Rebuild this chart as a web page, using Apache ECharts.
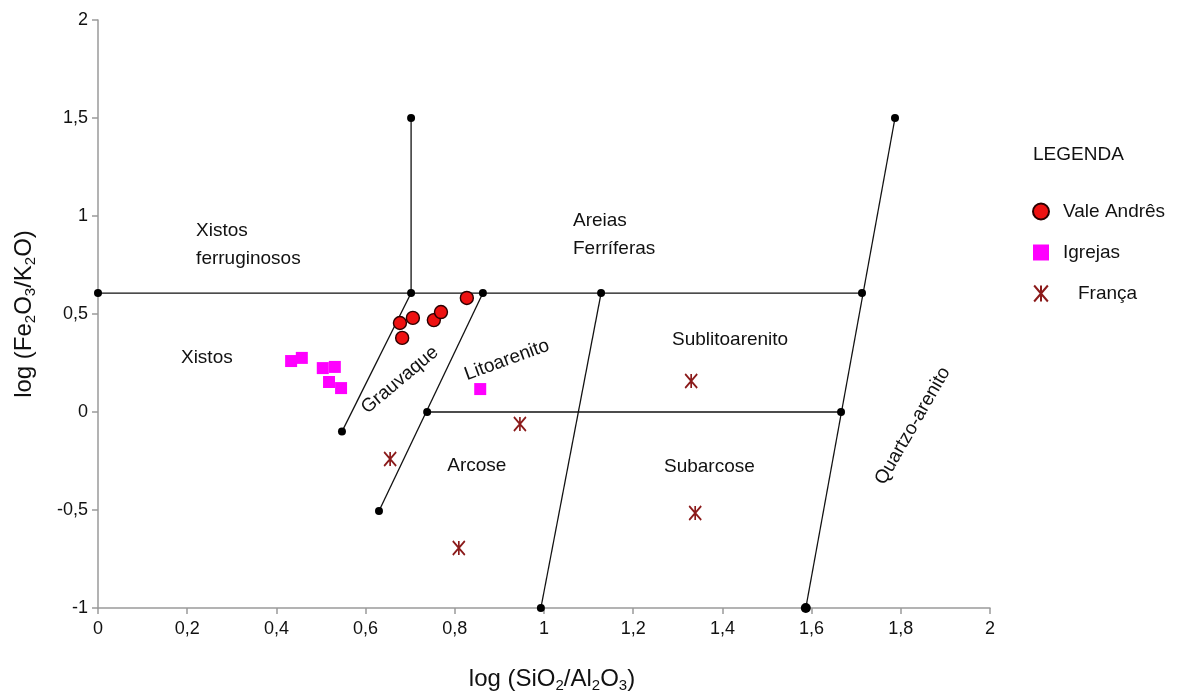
<!DOCTYPE html>
<html>
<head>
<meta charset="utf-8">
<script src="https://cdn.jsdelivr.net/npm/echarts@6/dist/echarts.min.js"></script>
<style>
  html, body { margin: 0; padding: 0; background: #fff; }
  #chart { width: 1200px; height: 695px; }
</style>
</head>
<body>
<div id="chart"></div>
<script>
// Herron (1988) classification: log(SiO2/Al2O3) vs log(Fe2O3/K2O)

// Sample groups [log(SiO2/Al2O3), log(Fe2O3/K2O)]
const valeAndres = [
  [0.677, 0.454], [0.706, 0.480], [0.682, 0.378],
  [0.753, 0.469], [0.769, 0.510], [0.827, 0.582]
];
const igrejas = [
  [0.433, 0.260], [0.457, 0.276], [0.504, 0.224], [0.531, 0.230],
  [0.518, 0.153], [0.545, 0.122], [0.857, 0.117]
];
const franca = [
  [0.655, -0.240], [0.946, -0.061], [0.809, -0.694],
  [1.330, 0.158], [1.339, -0.515]
];

// Field boundary segments (start, end)
const boundaries = [
  [[0.000, 0.607], [1.713, 0.607]],
  [[0.702, 0.607], [0.702, 1.500]],
  [[0.547, -0.100], [0.702, 0.607]],
  [[0.630, -0.505], [0.863, 0.607]],
  [[0.738, 0.000], [1.666, 0.000]],
  [[0.993, -1.000], [1.128, 0.607]],
  [[1.587, -1.000], [1.787, 1.500]]
];

// Boundary nodes (dots)
const nodes = [
  [0.000, 0.607], [0.702, 0.607], [0.702, 1.500], [0.863, 0.607],
  [1.128, 0.607], [1.713, 0.607], [1.787, 1.500], [0.547, -0.100],
  [0.630, -0.505], [0.738, 0.000], [1.666, 0.000], [0.993, -1.000]
];
const bigNodes = [[1.587, -1.000]];

// Field names and their anchor points in data units
const fieldNames = ['Xistos\nferruginosos', 'Xistos', 'Areias\nFerríferas', 'Grauvaque',
  'Litoarenito', 'Sublitoarenito', 'Arcose', 'Subarcose', 'Quartzo-arenito'];
const fieldAnchors = [
  [0.220, 0.852], [0.186, 0.276], [1.065, 0.903], [0.677, 0.163],
  [0.917, 0.265], [1.287, 0.367], [0.783, -0.276], [1.269, -0.281], [1.827, -0.071]
];
const fieldRotation = [0, 0, 0, 40, 20, 0, 0, 0, 60];
const fieldAlign = ['left', 'left', 'left', 'center', 'center', 'left', 'left', 'left', 'center'];

const xTicks = { min: 0, max: 2, interval: 0.2 };
const yTicks = { min: -1, max: 2, interval: 0.5 };

const FONT = 'Liberation Sans, Arial, sans-serif';
const INK = '#111';
const fmt = v => String(Math.round(v * 10) / 10).replace('.', ',');
const starPath = 'path://M0,0L12,14M12,0L0,14M6,0L6,14';

const chart = echarts.init(document.getElementById('chart'), null, { renderer: 'canvas' });

const series = [];
boundaries.forEach(seg => {
  series.push({
    type: 'line', data: seg, showSymbol: false, silent: true,
    lineStyle: { color: '#111', width: 1.3 }, z: 2
  });
});
series.push({
  type: 'scatter', data: nodes, symbol: 'circle', symbolSize: 8, silent: true,
  itemStyle: { color: '#000', opacity: 1 }, z: 3
});
series.push({
  type: 'scatter', data: bigNodes, symbol: 'circle', symbolSize: 10, silent: true,
  itemStyle: { color: '#000', opacity: 1 }, z: 3
});
series.push({
  type: 'scatter', silent: true, symbolSize: 0, z: 4,
  itemStyle: { opacity: 1 },
  data: fieldNames.map((n, i) => ({
    value: fieldAnchors[i],
    label: {
      show: true, formatter: n, position: 'inside', rotate: fieldRotation[i],
      align: fieldAlign[i], verticalAlign: 'middle', opacity: 1,
      fontFamily: FONT, fontSize: 19, color: INK, lineHeight: 28
    }
  }))
});
series.push({
  name: 'Vale Andrês', type: 'scatter', data: valeAndres, symbol: 'circle', symbolSize: 13,
  itemStyle: { color: '#ee1111', borderColor: '#2a0000', borderWidth: 1.4, opacity: 1 }, z: 6
});
series.push({
  name: 'Igrejas', type: 'scatter', data: igrejas, symbol: 'rect', symbolSize: 12,
  itemStyle: { color: '#ff00ff', opacity: 1 }, z: 6
});
series.push({
  name: 'França', type: 'scatter', data: franca, symbol: starPath, symbolSize: [12, 14],
  itemStyle: { color: 'rgba(0,0,0,0)', borderColor: '#8b1a1a', borderWidth: 1.8, opacity: 1 }, z: 6
});

const subRich = { s: { fontFamily: FONT, fontSize: 15, verticalAlign: 'bottom', lineHeight: 16, color: INK } };

chart.setOption({
  animation: false,
  backgroundColor: '#fff',
  grid: { left: 98, right: 210, top: 20, bottom: 87, containLabel: false, outerBoundsMode: 'none' },
  title: {
    text: 'LEGENDA', left: 1028, top: 140,
    textStyle: { fontFamily: FONT, fontSize: 19, fontWeight: 'normal', color: INK }
  },
  legend: {
    orient: 'vertical', left: 1032, top: 202, itemGap: 22, padding: 0,
    itemWidth: 16, itemHeight: 16,
    data: [
      { name: 'Vale Andrês' },
      { name: 'Igrejas', textStyle: { padding: [0, 0, 0, 9] } },
      { name: 'França', textStyle: { padding: [0, 0, 0, 24] } }
    ],
    textStyle: { fontFamily: FONT, fontSize: 19, color: INK, padding: [0, 0, 0, 9] }
  },
  xAxis: {
    type: 'value', min: xTicks.min, max: xTicks.max, interval: xTicks.interval,
    name: 'log (SiO{s|2}/Al{s|2}O{s|3})', nameLocation: 'middle', nameGap: 57,
    nameTextStyle: { fontFamily: FONT, fontSize: 24, color: INK, lineHeight: 28, rich: subRich, padding: [0, 0, 0, 16] },
    axisLine: { show: true, onZero: false, lineStyle: { color: '#9a9a9a', width: 1.5 } },
    axisTick: { show: true, length: 6, lineStyle: { color: '#9a9a9a', width: 1.5 } },
    splitLine: { show: false },
    axisLabel: { formatter: fmt, fontFamily: FONT, fontSize: 18, color: INK, margin: 12 }
  },
  yAxis: {
    type: 'value', min: yTicks.min, max: yTicks.max, interval: yTicks.interval,
    name: 'log (Fe{s|2}O{s|3}/K{s|2}O)', nameLocation: 'middle', nameGap: 60, nameRotate: 90,
    nameTextStyle: { fontFamily: FONT, fontSize: 24, color: INK, lineHeight: 28, rich: subRich },
    axisLine: { show: true, onZero: false, lineStyle: { color: '#9a9a9a', width: 1.5 } },
    axisTick: { show: true, length: 6, lineStyle: { color: '#9a9a9a', width: 1.5 } },
    splitLine: { show: false },
    axisLabel: { formatter: fmt, fontFamily: FONT, fontSize: 18, color: INK, margin: 10 }
  },
  series: series
});
</script>
</body>
</html>
